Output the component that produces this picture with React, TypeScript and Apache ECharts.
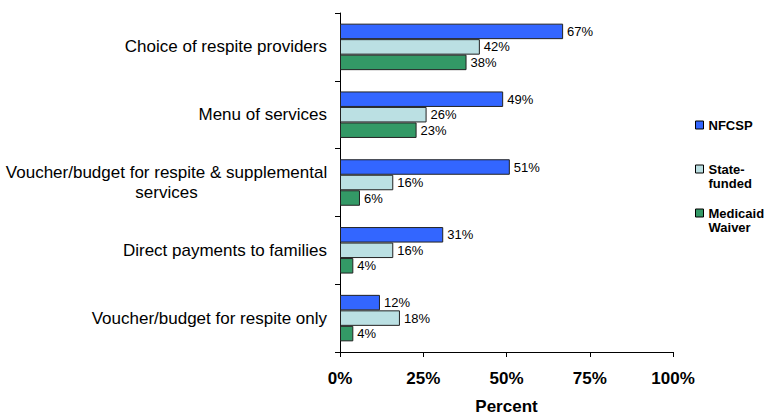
import React, { useEffect, useRef } from "react";
import * as echarts from "echarts";

const categories = [
  "Choice of respite providers",
  "Menu of services",
  "Voucher/budget for respite & supplemental\nservices",
  "Direct payments to families",
  "Voucher/budget for respite only",
];
const seriesNames = ["NFCSP", "State-funded", "Medicaid Waiver"];
const legendLines: Record<string, string[]> = {
  NFCSP: ["NFCSP", ""],
  "State-funded": ["State-", "funded"],
  "Medicaid Waiver": ["Medicaid", "Waiver"],
};
const nfcsp = [67, 49, 51, 31, 12];
const stateFunded = [42, 26, 16, 16, 18];
const medicaid = [38, 23, 6, 4, 4];
const xTicks = [0, 25, 50, 75, 100];

const FONT = "'Liberation Sans', Arial, sans-serif";

function measure(text: string, font: string): number {
  const c = document.createElement("canvas");
  const ctx = c.getContext("2d");
  if (!ctx) return text.length * 8;
  ctx.font = font;
  return ctx.measureText(text).width;
}

export default function App() {
  const ref = useRef<HTMLDivElement>(null);
  useEffect(() => {
    if (!ref.current) return;
    const chart = echarts.init(ref.current, undefined, { renderer: "svg" });
    const colors = ["#3366FF", "#BBE0E3", "#339966"];
    const data = [nfcsp, stateFunded, medicaid];
    const richY: Record<string, any> = {};
    categories.forEach((v) => {
      if (v.includes("\n")) {
        const lines = v.split("\n");
        const w = Math.max(...lines.map((l) => measure(l, `17px ${FONT}`)));
        richY["c" + Math.round(w)] = {
          width: Math.round(w),
          align: "center",
          fontFamily: FONT,
          fontSize: 17,
          color: "#000",
          lineHeight: 20,
        };
      }
    });
    chart.setOption({
      animation: false,
      backgroundColor: "#ffffff",
      textStyle: { fontFamily: FONT },
      grid: { left: 340, right: 91, top: 13, bottom: 61, containLabel: false },
      legend: {
        orient: "vertical",
        left: 695,
        top: 104,
        padding: 0,
        itemWidth: 8,
        itemHeight: 8,
        itemGap: 2,
        icon: "rect",
        itemStyle: { borderColor: "#000", borderWidth: 1 },
        data: seriesNames,
        formatter: (n: string) => {
          const ls = legendLines[n] ?? [n, ""];
          return ["{e| }", ...ls.map((l) => (l ? `{t|${l}}` : "{e| }"))].join("\n");
        },
        textStyle: {
          fontFamily: FONT,
          fontSize: 13,
          fontWeight: "bold",
          color: "#000",
          lineHeight: 14,
          rich: {
            t: { fontFamily: FONT, fontSize: 13, fontWeight: "bold", color: "#000", lineHeight: 14 },
            e: { fontFamily: FONT, fontSize: 13, lineHeight: 14 },
          },
        },
      },
      xAxis: {
        type: "value",
        min: xTicks[0],
        max: xTicks[xTicks.length - 1],
        interval: 25,
        name: "Percent",
        nameLocation: "middle",
        nameGap: 46,
        nameTextStyle: { fontFamily: FONT, fontSize: 17, fontWeight: "bold", color: "#000" },
        axisLine: { show: true, lineStyle: { color: "#000", width: 1 } },
        axisTick: { show: true, length: 5, lineStyle: { color: "#000" } },
        splitLine: { show: false },
        axisLabel: {
          formatter: "{value}%",
          fontFamily: FONT,
          fontSize: 17,
          fontWeight: "bold",
          color: "#000",
          margin: 18,
        },
      },
      yAxis: {
        type: "category",
        inverse: true,
        data: categories,
        axisLine: { show: true, lineStyle: { color: "#000", width: 1 } },
        axisTick: { show: true, length: 5, lineStyle: { color: "#000" } },
        axisLabel: {
          fontFamily: FONT,
          fontSize: 17,
          color: "#000",
          margin: 13,
          lineHeight: 20,
          formatter: (v: string) => {
            if (!v.includes("\n")) return v;
            const lines = v.split("\n");
            const w = Math.max(...lines.map((l) => measure(l, `17px ${FONT}`)));
            return lines.map((l) => `{c${Math.round(w)}|${l}}`).join("\n");
          },
          rich: richY,
        },
      },
      series: seriesNames.map((name, i) => ({
        name,
        type: "bar",
        data: data[i],
        barWidth: 15.5,
        barGap: "0%",
        itemStyle: { color: colors[i], borderColor: "#222", borderWidth: 1 },
        label: {
          show: true,
          position: "right",
          distance: 4,
          formatter: "{c}%",
          fontFamily: FONT,
          fontSize: 13,
          color: "#000",
        },
      })),
    });
    return () => chart.dispose();
  }, []);
  return <div ref={ref} style={{ width: 764, height: 420, position: "absolute", left: 0, top: 0 }} />;
}
